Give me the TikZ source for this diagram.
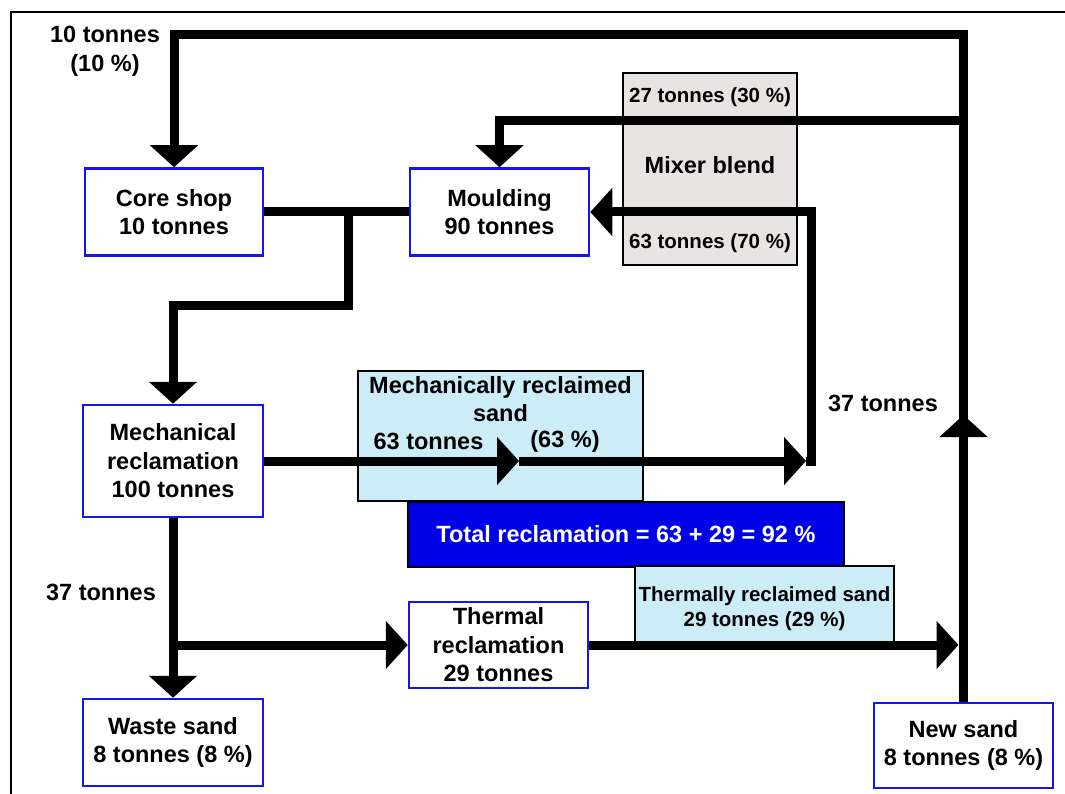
\documentclass[tikz,border=0pt]{standalone}
\usepackage{fontspec}
\setmainfont{Liberation Sans}
\usetikzlibrary{arrows.meta}
\definecolor{boxblue}{RGB}{20,20,245}
\definecolor{mixgray}{RGB}{232,228,228}
\definecolor{lightcy}{RGB}{204,236,248}
\definecolor{totalblue}{RGB}{0,0,230}
\begin{document}
\begin{tikzpicture}[x=1pt,y=-1pt,
  flow/.style={line width=9pt, line join=miter},
  tip/.style={-{Triangle[width=47pt,length=22pt]}},
  bigfont/.style={font=\bfseries\fontsize{23.5}{28.5}\selectfont},
  smallfont/.style={font=\bfseries\fontsize{20.5}{25}\selectfont},
  proc/.style={draw=boxblue, line width=2.5pt, fill=white, align=center, inner sep=0pt, bigfont},
  panel/.style={draw=black, line width=2pt, inner sep=0pt},
  lab/.style={align=center, inner sep=0pt, bigfont}
]
\useasboundingbox (0,0) rectangle (1065,794);
\fill[white] (0,0) rectangle (1065,794);
% frame
\draw[line width=2pt] (11,794) -- (11,12) -- (1065,12);

% background panels
\node[panel, fill=mixgray, minimum width=174pt, minimum height=192pt] (mixer) at (710,169) {};
\node[lab, smallfont] (mx1) at (710,97) {27 tonnes (30 \%)};
\node[lab] (mx2) at (710,165) {Mixer blend};
\node[lab, smallfont] (mx3) at (710,243) {63 tonnes (70 \%)};

\node[panel, fill=lightcy, minimum width=285pt, minimum height=130pt] (mrs) at (500.5,436) {};
\node[lab] (mrst) at (500.5,399) {Mechanically reclaimed\\sand};
\node[lab] (mrsa) at (428.5,441) {63 tonnes};
\node[lab] (mrsb) at (565,441) {(63 \%)};

\node[panel, fill=totalblue, minimum width=436pt, minimum height=65pt, text=white, bigfont] (total) at (626,534.5) {Total reclamation = 63 + 29 = 92 \%};

\node[panel, fill=lightcy, minimum width=259pt, minimum height=77pt] (trs) at (764.5,604.5) {};
\node[lab, smallfont] (trst) at (764.5,608.5) {Thermally reclaimed sand\\29 tonnes (29 \%)};

% process boxes
\node[proc, minimum width=178pt, minimum height=87pt] (core) at (174,212) {Core shop\\10 tonnes};
\node[proc, minimum width=179pt, minimum height=87pt] (mould) at (499.5,212) {Moulding\\90 tonnes};
\node[proc, minimum width=180pt, minimum height=112pt] (mech) at (173,461) {Mechanical\\reclamation\\100 tonnes};
\node[proc, minimum width=180pt, minimum height=87pt] (waste) at (173,742.5) {Waste sand\\8 tonnes (8 \%)};
\node[proc, minimum width=179pt, minimum height=86pt] (thermal) at (498.5,645) {Thermal\\reclamation\\29 tonnes};
\node[proc, minimum width=179pt, minimum height=85pt] (ns) at (963.5,745.5) {New sand\\8 tonnes (8 \%)};

% labels
\node[lab] (l10) at (105,51) {10 tonnes\\(10 \%)};
\node[lab] (l37a) at (101,592) {37 tonnes};
\node[lab] (l37b) at (883,403) {37 tonnes};

% coordinates
\coordinate (upA) at (963.5,440);
\coordinate (upB) at (963.5,415);
\coordinate (j1) at (963.5,121);
\coordinate (j2) at (348,212);
\coordinate (a1) at (519,461);
\coordinate (a2) at (806,461);
\coordinate (j3) at (173,645);
\coordinate (t2) at (958.5,645);

% connectors
\draw[flow,tip] (ns.north) -- ++(0,-667) -| (core.north);
\draw[flow,tip] (upA) -- (upB);
\draw[flow,tip] (j1) -| (mould.north);
\draw[flow] (core.east) -- (mould.west);
\draw[flow,tip] (j2) -- ++(0,93) -| (mech.north);
\draw[flow,tip] (mech.east) -- (a1);
\draw[flow,tip] (a1) -- (a2);
\draw[flow,tip] (a2) -- ++(5,0) |- (mould.east);
\draw[flow,tip] (mech.south) -- (waste.north);
\draw[flow,tip] (j3) -- (thermal.west);
\draw[flow,tip] (thermal.east) -- (t2);
\end{tikzpicture}
\end{document}
